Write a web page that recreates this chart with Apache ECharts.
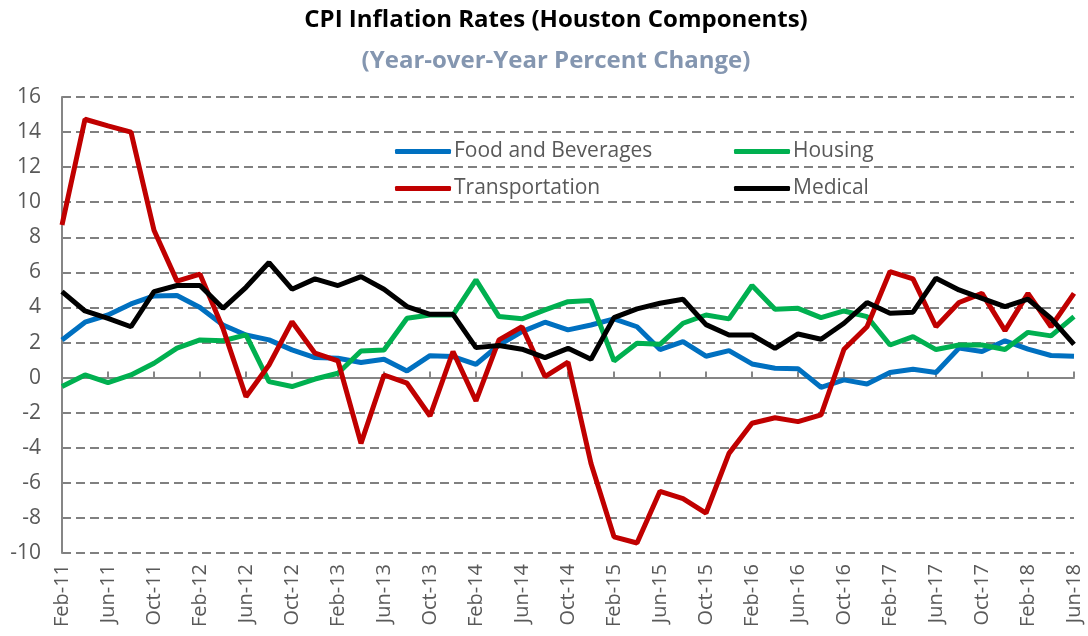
<!DOCTYPE html>
<html>
<head>
    <meta charset="utf-8">
    <title>CPI Houston</title>
    <script src="https://cdn.jsdelivr.net/npm/echarts@6/dist/echarts.min.js"></script>
</head>
<body style="margin:0">
<div id="main" style="width: 1088px;height:636px;"></div>
<script type="text/javascript">
    // bimonthly, Feb-11 .. Jun-18
    var months = ['Feb','Apr','Jun','Aug','Oct','Dec'];
    var dates = [];
    for (var y = 11; y <= 18; y++) {
        for (var m = 0; m < 6; m++) {
            if (y == 18 && m > 2) break;
            dates.push(months[m] + '-' + y);
        }
    }

    var food = [2.15,3.16,3.57,4.2,4.66,4.68,4.0,3.0,2.43,2.15,1.58,1.14,1.1,0.86,
        1.05,0.38,1.25,1.2,0.76,1.86,2.62,3.16,2.72,3.0,3.35,2.9,1.6,2.05,1.22,
        1.54,0.78,0.53,0.51,-0.55,-0.13,-0.36,0.29,0.48,0.29,1.68,1.49,2.1,1.62,1.26,1.22];
    var housing = [-0.51,0.15,-0.29,0.15,0.82,1.68,2.15,2.1,2.44,-0.23,-0.51,-0.08,0.25,1.52,
        1.58,3.38,3.57,3.57,5.57,3.48,3.35,3.86,4.33,4.39,0.95,1.96,1.9,3.1,3.57,
        3.35,5.25,3.9,3.95,3.42,3.8,3.48,1.86,2.34,1.6,1.86,1.86,1.6,2.58,2.38,3.48];
    var transport = [8.7,14.73,14.35,14.0,8.4,5.5,5.9,2.8,-1.09,0.72,3.19,1.39,0.95,-3.75,
        0.15,-0.32,-2.19,1.49,-1.33,2.15,2.9,0.06,0.88,-4.9,-9.08,-9.43,-6.48,-6.9,-7.72,
        -4.32,-2.6,-2.29,-2.51,-2.13,1.62,2.9,6.05,5.63,2.9,4.28,4.8,2.68,4.8,2.9,4.8];
    var medical = [4.9,3.8,3.38,2.9,4.9,5.25,5.25,3.95,5.15,6.56,5.04,5.63,5.25,5.76,
        5.04,4.05,3.61,3.61,1.71,1.83,1.62,1.14,1.67,1.05,3.42,3.92,4.24,4.47,3.02,
        2.43,2.43,1.67,2.49,2.19,3.1,4.28,3.67,3.73,5.67,5.0,4.52,4.05,4.47,3.38,1.9];

    var font = 'Open Sans';
    var grey = '#595959';

    function line(name, data, color) {
        return {
            name: name, type: 'line', data: data, xAxisIndex: 0,
            symbol: 'none', lineStyle: {color: color, width: 5}, itemStyle: {color: color}
        };
    }

    var myChart = echarts.init(document.getElementById('main'));
    var option = {
        animation: false,
        title: {
            text: 'CPI Inflation Rates (Houston Components)',
            subtext: '(Year-over-Year Percent Change)',
            left: 551, top: 3, itemGap: 17, textAlign: 'center',
            textStyle: {fontFamily: font, fontWeight: 'bold', fontSize: 24, color: '#000'},
            subtextStyle: {fontFamily: font, fontWeight: 'bold', fontSize: 24, color: '#8496B0'}
        },
        legend: [{
            data: ['Food and Beverages', 'Transportation'],
            orient: 'vertical', left: 390, top: 136, itemGap: 16,
            itemWidth: 56, itemHeight: 5, icon: 'roundRect',
            textStyle: {fontFamily: font, fontSize: 21, color: grey, padding: [0, 0, 0, -2]}
        }, {
            data: ['Housing', 'Medical'],
            orient: 'vertical', left: 729, top: 136, itemGap: 16,
            itemWidth: 56, itemHeight: 5, icon: 'roundRect',
            textStyle: {fontFamily: font, fontSize: 21, color: grey, padding: [0, 0, 0, -2]}
        }],
        grid: {left: 62, right: 14, top: 97, bottom: 83},
        xAxis: [{
            type: 'category', data: dates, boundaryGap: false,
            axisLine: {show: false, onZero: false}, axisTick: {show: false},
            axisLabel: {rotate: 90, interval: 1, margin: 11, color: grey,
                fontFamily: font, fontSize: 20}
        }, {
            type: 'category', data: dates, boundaryGap: false,
            axisLine: {onZero: true, lineStyle: {color: '#868686', width: 2}},
            axisTick: {interval: 1, length: 6, lineStyle: {color: '#868686', width: 2}},
            axisLabel: {show: false}
        }],
        yAxis: {
            type: 'value', min: -10, max: 16, interval: 2,
            axisLine: {show: true, lineStyle: {color: '#868686', width: 2}},
            axisTick: {show: false},
            axisLabel: {color: grey, fontFamily: font, fontSize: 21, margin: 21},
            splitLine: {lineStyle: {color: '#808080', width: 2, type: [9, 5]}}
        },
        series: [
            line('Food and Beverages', food, '#0070C0'),
            line('Housing', housing, '#00B050'),
            line('Transportation', transport, '#C00000'),
            line('Medical', medical, '#000000')
        ]
    };
    myChart.setOption(option);
</script>
</body>
</html>
